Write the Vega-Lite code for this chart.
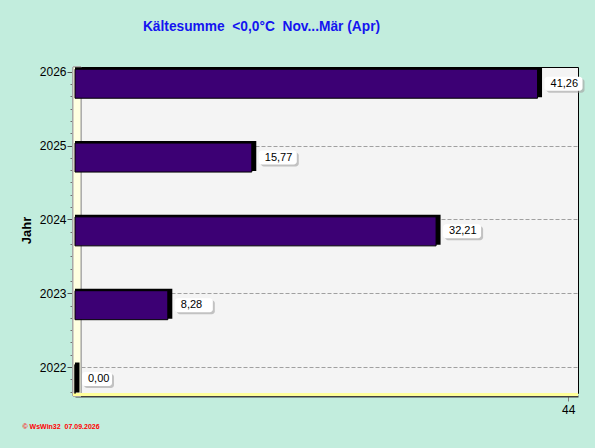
{
  "$schema": "https://vega.github.io/schema/vega-lite/v6.json",
  "autosize": {"type": "none"},
  "padding": {"left": 75, "top": 67, "right": 17, "bottom": 55},
  "width": 503,
  "height": 326,
  "background": "#c2eddd",
  "view": {"fill": "#f4f4f4", "stroke": "#000000", "strokeWidth": 1},
  "title": {
    "text": "Kältesumme \u00a0<0,0°C \u00a0Nov...Mär (Apr)",
    "frame": "group",
    "anchor": "middle",
    "dx": -65,
    "offset": 21,
    "baseline": "alphabetic",
    "font": "Liberation Sans",
    "fontSize": 13.75,
    "fontWeight": "bold",
    "color": "#1414f0"
  },
  "config": {
    "locale": {"number": {"decimal": ",", "thousands": ".", "grouping": [3], "currency": ["", " €"]}}
  },
  "data": {
    "values": [
      {"year": 2022, "value": 0.0},
      {"year": 2023, "value": 8.28},
      {"year": 2024, "value": 32.21},
      {"year": 2025, "value": 15.77},
      {"year": 2026, "value": 41.26}
    ]
  },
  "resolve": {"scale": {"y": "shared", "x": "shared"}, "axis": {"y": "independent"}},
  "layer": [
    {
      "mark": {"type": "rect", "fill": "#ffffe0", "stroke": "#a8a8a8", "strokeWidth": 1, "xOffset": -2},
      "encoding": {
        "x": {"datum": 0, "type": "quantitative"},
        "x2": {"datum": 0.53},
        "y": {
          "datum": 2021.607, "type": "quantitative",
          "axis": {
            "orient": "left",
            "values": [2021.667, 2021.833, 2022.167, 2022.333, 2022.5, 2022.667, 2022.833, 2023.167, 2023.333, 2023.5, 2023.667, 2023.833, 2024.167, 2024.333, 2024.5, 2024.667, 2024.833, 2025.167, 2025.333, 2025.5, 2025.667, 2025.833],
            "labels": false, "domain": false, "grid": false, "title": null,
            "tickSize": 3, "tickColor": "#707070", "offset": 2
          }
        },
        "y2": {"datum": 2026.064}
      }
    },
    {
      "mark": {"type": "rect", "fill": "#ffff99", "xOffset": -2},
      "encoding": {
        "x": {"datum": 0, "type": "quantitative"},
        "x2": {"datum": 44.87},
        "y": {"datum": 2021.648, "type": "quantitative", "axis": null},
        "y2": {"datum": 2021.607}
      }
    },
    {
      "mark": {"type": "bar", "fill": "#000000", "size": 30, "yOffset": 10.5, "xOffset": 4.5, "orient": "horizontal"},
      "encoding": {
        "x": {"field": "value", "type": "quantitative"},
        "x2": {"datum": 0},
        "y": {"field": "year", "type": "quantitative", "axis": null}
      }
    },
    {
      "mark": {"type": "bar", "fill": "#3c0074", "stroke": "#000000", "strokeWidth": 1, "size": 29, "yOffset": 12, "orient": "horizontal"},
      "encoding": {
        "x": {
          "field": "value", "type": "quantitative",
          "scale": {"domain": [0, 44.87], "nice": false, "zero": true, "padding": 0},
          "axis": {
            "values": [44], "grid": false, "offset": 3,
            "domainColor": "#404040", "domainWidth": 2,
            "tickColor": "#808080", "tickSize": 5,
            "labelFont": "Liberation Sans", "labelFontSize": 12, "labelColor": "#000000", "labelPadding": 3,
            "title": "© WsWin32 \u00a007.09.2026",
            "titleFont": "Liberation Sans", "titleFontSize": 7, "titleFontWeight": "bold", "titleColor": "#ff0000",
            "titleX": -53, "titleY": 30, "titleAlign": "left", "titleAnchor": "start", "titleBaseline": "middle"
          }
        },
        "x2": {"datum": 0},
        "y": {
          "field": "year", "type": "quantitative",
          "scale": {"domain": [2021.648, 2026.064], "nice": false, "zero": false, "padding": 0},
          "axis": {
            "orient": "left",
            "values": [2022, 2023, 2024, 2025, 2026], "format": "d",
            "offset": 2, "domainColor": "#404040", "domainWidth": 2,
            "tickColor": "#505050", "tickSize": 6,
            "labelFont": "Liberation Sans", "labelFontSize": 12, "labelColor": "#000000", "labelPadding": 1,
            "grid": true, "gridColor": "#a0a0a0", "gridDash": [4, 2],
            "gridOpacity": {"condition": {"test": "datum.value == 2026", "value": 0}, "value": 1},
            "title": "Jahr", "titleFont": "Liberation Sans", "titleFontSize": 13, "titleFontWeight": "bold",
            "titleColor": "#000000", "titlePadding": 6
          }
        }
      }
    },
    {
      "mark": {"type": "rect", "fill": "#a0a0a0", "opacity": 0.6, "cornerRadius": 3, "xOffset": 9, "x2Offset": {"expr": "datum.value == 0 ? 39 : 47"}, "yOffset": 7, "y2Offset": 21},
      "encoding": {
        "x": {"field": "value", "type": "quantitative"},
        "x2": {"field": "value"},
        "y": {"field": "year", "type": "quantitative", "axis": null},
        "y2": {"field": "year"}
      }
    },
    {
      "mark": {"type": "rect", "fill": "#ffffff", "cornerRadius": 3, "xOffset": 7, "x2Offset": {"expr": "datum.value == 0 ? 37 : 45"}, "yOffset": 5, "y2Offset": 19},
      "encoding": {
        "x": {"field": "value", "type": "quantitative"},
        "x2": {"field": "value"},
        "y": {"field": "year", "type": "quantitative", "axis": null},
        "y2": {"field": "year"}
      }
    },
    {
      "mark": {"type": "text", "align": "left", "baseline": "middle", "xOffset": 13, "yOffset": 12, "font": "Liberation Sans", "fontSize": 11, "color": "#000000"},
      "encoding": {
        "x": {"field": "value", "type": "quantitative"},
        "y": {"field": "year", "type": "quantitative", "axis": null},
        "text": {"field": "value", "type": "quantitative", "format": ".2f"}
      }
    }
  ]
}
